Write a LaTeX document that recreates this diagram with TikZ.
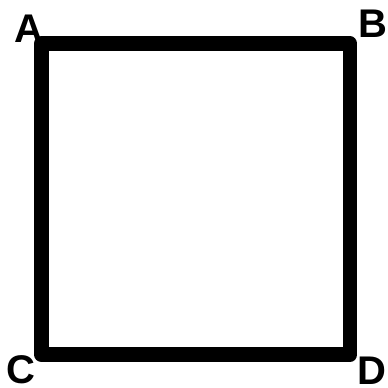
\documentclass[tikz,border=0pt]{standalone}
\usepackage{fontspec}
\setmainfont{Liberation Sans}
\begin{document}
\begin{tikzpicture}[x=1pt,y=-1pt,
  lbl/.style={font=\fontsize{40}{40}\selectfont\bfseries, inner sep=0pt, anchor=base},
  edge/.style={line width=14.5pt, line join=round, line cap=round}]
\useasboundingbox (0,0) rectangle (388,388);
\coordinate (a) at (41.3,43.7);
\coordinate (b) at (350,43.7);
\coordinate (c) at (41.3,354.7);
\coordinate (d) at (350,354.7);
\draw[edge] (a) -- (b) -- (d) -- (c) -- cycle;
\node[lbl] (la) at (28.5,42) {A};
\node[lbl] (lb) at (373.3,37.3) {B};
\node[lbl] (lc) at (21.3,383.5) {C};
\node[lbl] (ld) at (372,384.7) {D};
\end{tikzpicture}
\end{document}
